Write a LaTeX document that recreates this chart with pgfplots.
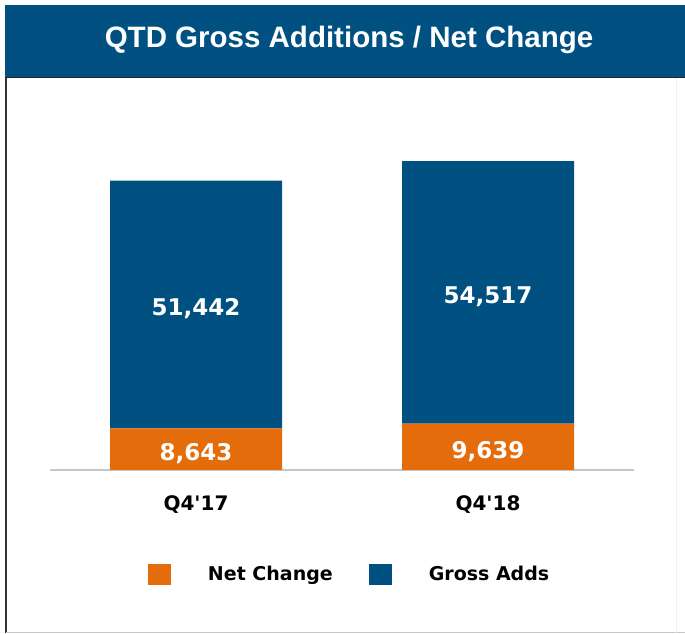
\documentclass[border=0pt]{standalone}
\usepackage{pgfplots}
\pgfplotsset{compat=1.18}
\usepackage{pgfplotstable}
\usepackage{fontspec}
\setmainfont{DejaVu Sans}
\newfontfamily\titlefont{Liberation Sans}
\definecolor{gblue}{RGB}{0,81,130}
\definecolor{norange}{RGB}{228,108,10}

\pgfplotstableread{
x net gross
0 8643 51442
1 9639 54517
}\datatable

\begin{document}
\begin{tikzpicture}[x=1pt,y=1pt]
\useasboundingbox (0,0) rectangle (685,634);
\fill[white] (0,0) rectangle (685,634);
\fill[gblue] (5,557) rectangle (685,629);
\draw[black!85, line width=1.2pt] (5,556.6) -- (685,556.6);
\draw[black!80, line width=1.5pt] (6,556) -- (6,1);
\draw[gray!45, line width=1pt] (6,1) -- (685,1);
\draw[gray!12, line width=1pt] (676,556) -- (676,1);
\node[anchor=base, text=white, inner sep=0pt, font=\titlefont\bfseries\fontsize{29.5}{30}\selectfont] at (349,586) {QTD Gross Additions / Net Change};

\begin{axis}[
  at={(50pt,164pt)}, anchor=south west,
  scale only axis, width=584pt, height=337.1pt,
  xmin=-0.5, xmax=1.5, ymin=0, ymax=70000,
  ybar stacked, bar width=172pt,
  axis y line=none, axis x line=bottom,
  axis line style={draw=gray!45, line width=1.2pt, -},
  xtick={0,1}, xticklabels={Q4\textquotesingle17,Q4\textquotesingle18},
  major tick length=0pt, ytick=\empty,
  xticklabel style={anchor=base, yshift=-41pt, inner sep=0pt, font=\bfseries\fontsize{20}{20}\selectfont},
  clip=false,
  legend columns=2,
  legend style={at={(98/584,-104.5/337.1)}, anchor=west, draw=none, fill=none,
    inner sep=0pt, outer sep=0pt,
    font=\bfseries\fontsize{19}{19}\selectfont,
    /tikz/every odd column/.append style={column sep=35pt},
    /tikz/every even column/.append style={column sep=34pt}},
  legend cell align=left,
  nodes near coords={\pgfmathprintnumber[assume math mode=true]{\pgfplotspointmeta}},
  every node near coord/.append style={anchor=center, text=white, yshift=-4.5pt,
     font=\bfseries\fontsize{23}{23}\selectfont},
]
\addplot[fill=norange, draw=none,
  point meta=\thisrow{net},
  legend image code/.code={\path[fill=norange] (0pt,-10.5pt) rectangle (23pt,10.5pt);}]
  table[x=x, y=net] {\datatable};
\addlegendentry{Net Change}
\addplot[fill=gblue, draw=none,
  point meta=\thisrow{gross},
  legend image code/.code={\path[fill=gblue] (0pt,-10.5pt) rectangle (23pt,10.5pt);}]
  table[x=x, y=gross] {\datatable};
\addlegendentry{Gross Adds}
\end{axis}
\end{tikzpicture}
\end{document}
